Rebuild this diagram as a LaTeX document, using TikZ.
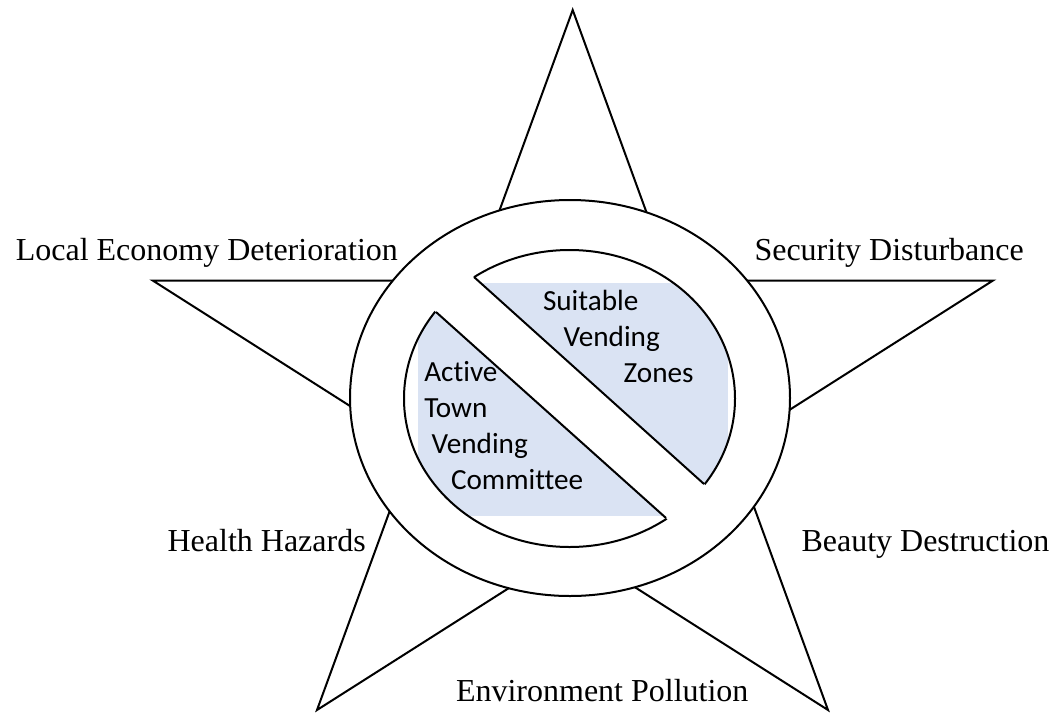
\documentclass[tikz,border=0pt]{standalone}
\usepackage{fontspec}
\setmainfont{Liberation Serif}
\newfontfamily\calibri[Ligatures=NoCommon]{Carlito}
\usetikzlibrary{calc}
\definecolor{zonefill}{HTML}{DAE3F3}

\begin{document}
\begin{tikzpicture}[x=0.5pt, y=-0.5pt, line width=1pt,
    every node/.style={inner sep=0pt, anchor=base west},
    issue/.style={font=\fontsize{16}{19}\selectfont},
    remedy/.style={font=\calibri\fontsize{14.6}{17.8}\selectfont}]
    \useasboundingbox (0,0) rectangle (1050,713);
    % star tips
    \coordinate (T) at (572.7,10);
    \coordinate (R) at (993,280.5);
    \coordinate (BR) at (828,710);
    \coordinate (BL) at (317,710);
    \coordinate (L) at (152.7,280.5);
    \draw (T) -- (intersection of T--BR and L--R) -- (R)
      -- (intersection of R--BL and T--BR) -- (BR)
      -- (intersection of BR--L and BL--R) -- (BL)
      -- (intersection of BL--T and L--BR) -- (L)
      -- (intersection of L--R and T--BL) -- cycle;
    % ring
    \coordinate (C) at (570,398);
    \coordinate (Ci) at (569.5,398.5);
    \draw[fill=white] (C) ellipse [x radius=220, y radius=198];
    \begin{scope}
      \clip (Ci) ellipse [x radius=165.5, y radius=148.5];
      \fill[zonefill] (418,283) rectangle (728,516);
    \end{scope}
    \draw (Ci) ellipse [x radius=165.5, y radius=148.5];
    % bar
    \coordinate (ua) at (474,277);
    \coordinate (ub) at (704,484);
    \coordinate (la) at (436,312);
    \coordinate (lb) at (666,518);
    \fill[white] ($(ua)!-0.12!(ub)$) -- ($(ub)!-0.12!(ua)$)
      -- ($(lb)!-0.12!(la)$) -- ($(la)!-0.12!(lb)$) -- cycle;
    \draw (ua) -- (ub);
    \draw (la) -- (lb);
    % texts
    \node[remedy] (suit1) at (542,310.7) {Suitable};
    \node[remedy] (suit2) at (562.7,346.7) {Vending};
    \node[remedy] (suit3) at (622.7,382) {Zones};
    \node[remedy] (comm1) at (423.3,381.7) {Active};
    \node[remedy] (comm2) at (423.3,417.3) {Town};
    \node[remedy] (comm3) at (430.7,453.3) {Vending};
    \node[remedy] (comm4) at (450,489) {Committee};
    \node[issue] (econ) at (14.8,260) {Local Economy Deterioration};
    \node[issue] (secu) at (753.5,260) {Security Disturbance};
    \node[issue] (heal) at (166.6,551) {Health Hazards};
    \node[issue] (beau) at (800.5,551) {Beauty Destruction};
    \node[issue] (envi) at (455,701) {Environment Pollution};
  \end{tikzpicture}
\end{document}
